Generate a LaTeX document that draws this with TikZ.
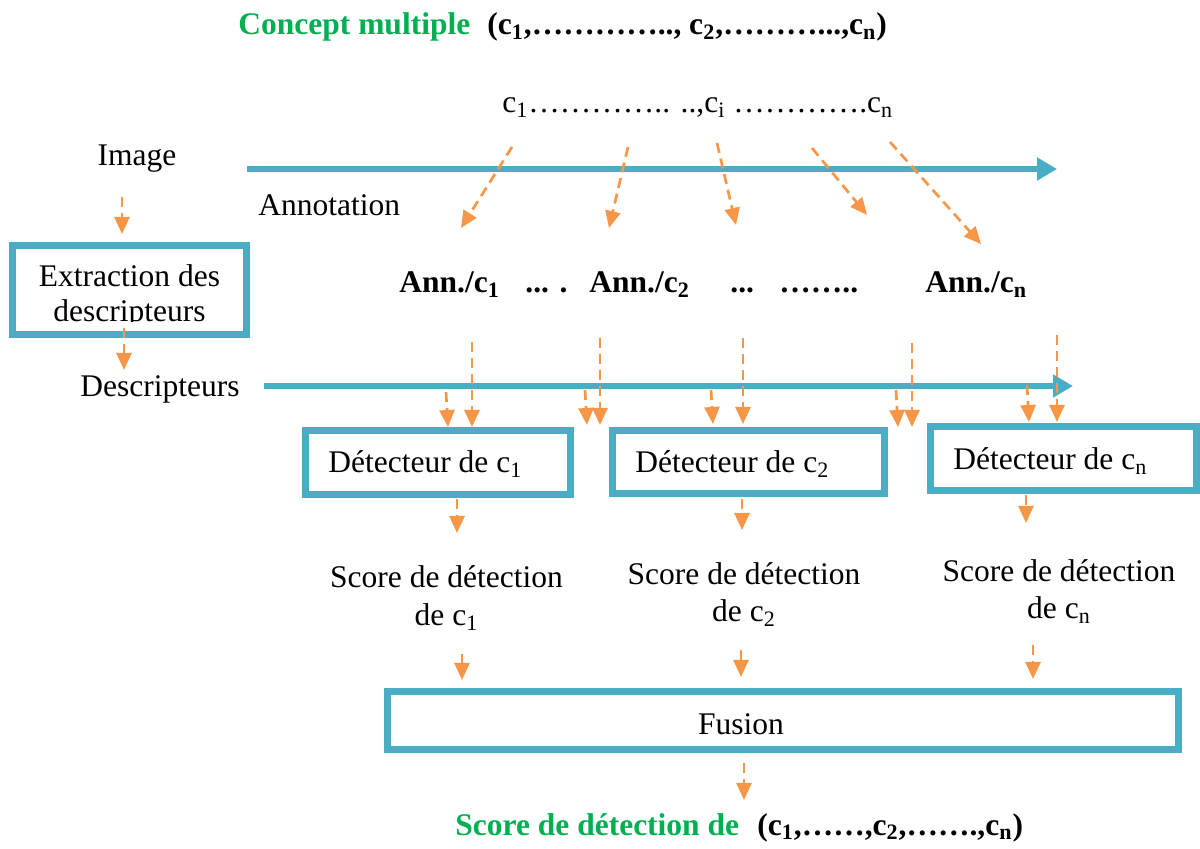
\documentclass[tikz,border=0pt]{standalone}
\usepackage{fontspec}
\setmainfont{Liberation Serif}
\usetikzlibrary{arrows.meta}
\definecolor{cblue}{HTML}{4BACC6}
\definecolor{corange}{HTML}{F79646}
\definecolor{cgreen}{HTML}{00B050}
\newcommand\sbs[1]{\textsubscript{#1}}
\begin{document}
\begin{tikzpicture}[x=0.5pt,y=-0.5pt,
  txt/.style={inner sep=0pt, font=\fontsize{15.75}{18}\selectfont},
  lbl/.style={txt, anchor=base west},
  mid/.style={txt, anchor=base},
  heavy/.style={font=\fontsize{15.75}{18}\selectfont\bfseries},
  bluebox/.style={draw=cblue, line width=3.3pt, inner sep=0pt},
  flowarrow/.style={draw=cblue, line width=3pt, -{Triangle[length=10pt,width=11pt]}},
  oarrow/.style={draw=corange, line width=1.35pt, dash pattern=on 5pt off 3pt, -{Triangle[length=8.5pt,width=7.5pt]}}
]
\useasboundingbox (0,0) rectangle (1200,849);

% titles
\node[lbl, heavy, text=cgreen] (title) at (238,35) {Concept multiple};
\node[lbl, heavy] (titlec) at (487,35) {(c\sbs{1},…………..,\ c\sbs{2},………...,c\sbs{n})};
\node[lbl] (clist) at (502,113) {c\sbs{1}………….. ..,c\sbs{i} ………….c\sbs{n}};

% left column
\node[mid] (image) at (137,166) {Image};
\node[lbl] (annot) at (258,216) {Annotation};
\node[bluebox, minimum width=117pt, minimum height=44.5pt] (extr) at (129.5,290) {};
\node[mid] (extra) at (129.5,287) {Extraction des};
\begin{scope}
\clip (0,0) rectangle (1200,322);
\node[mid] (extrb) at (129.5,322) {descripteurs};
\end{scope}
\node[lbl] (desc) at (80,397) {Descripteurs};

% annotation labels
\node[lbl, heavy] (ann1) at (399,293) {Ann./c\sbs{1}};
\node[lbl, heavy] (dots1) at (525,293) {... .};
\node[lbl, heavy] (ann2) at (589,293) {Ann./c\sbs{2}};
\node[lbl, heavy] (dots2) at (730,293) {...};
\node[lbl, heavy] (dots3) at (779,293) {……..};
\node[lbl, heavy] (annn) at (925,293) {Ann./c\sbs{n}};

% detector boxes
\node[bluebox, minimum width=132.5pt, minimum height=32pt] (det1) at (438,462.5) {};
\node[bluebox, minimum width=136pt, minimum height=31.5pt] (det2) at (748.5,462) {};
\node[bluebox, minimum width=133pt, minimum height=32pt] (det3) at (1063.5,458.5) {};
\node[lbl] (det1t) at (328,473) {Détecteur de c\sbs{1}};
\node[lbl] (det2t) at (635,473) {Détecteur de c\sbs{2}};
\node[lbl] (det3t) at (953,470) {Détecteur de c\sbs{n}};

% scores
\node[mid] (sc1a) at (446.5,588) {Score de détection};
\node[mid] (sc1b) at (446.5,626) {de c\sbs{1}};
\node[mid] (sc2a) at (744,585) {Score de détection};
\node[mid] (sc2b) at (744,622) {de c\sbs{2}};
\node[mid] (sc3a) at (1059,582) {Score de détection};
\node[mid] (sc3b) at (1059,619) {de c\sbs{n}};

% fusion
\node[bluebox, minimum width=395.5pt, minimum height=29pt] (fus) at (783,720.5) {};
\node[mid] (fust) at (741,735) {Fusion};

\node[lbl, heavy, text=cgreen] (res) at (455,835) {Score de détection de};
\node[lbl, heavy] (resc) at (757,835) {(c\sbs{1},……,c\sbs{2},…….,c\sbs{n})};

% blue flow arrows
\coordinate (a1s) at (247,169); \coordinate (a1e) at (1057,169);
\coordinate (a2s) at (264,386); \coordinate (a2e) at (1073,386);
\draw[flowarrow] (a1s) -- (a1e);
\draw[flowarrow] (a2s) -- (a2e);

% orange arrows, left column
\coordinate (o1s) at (122,197); \coordinate (o1e) at (122,234);
\coordinate (o2s) at (124,328); \coordinate (o2e) at (124,370);
\draw[oarrow] (o1s) -- (o1e);
\draw[oarrow] (o2s) -- (o2e);

% slanted arrows from concepts
\coordinate (s1s) at (512,147); \coordinate (s1e) at (461,228);
\coordinate (s2s) at (628,147); \coordinate (s2e) at (609,228);
\coordinate (s3s) at (717,143); \coordinate (s3e) at (736,225);
\coordinate (s4s) at (812,148); \coordinate (s4e) at (867,215);
\coordinate (s5s) at (890,142); \coordinate (s5e) at (981,244);
\foreach \i in {1,...,5} {\draw[oarrow] (s\i s) -- (s\i e);}

% vertical arrows to detectors
\coordinate (v1as) at (446,392); \coordinate (v1ae) at (448,427);
\coordinate (v1bs) at (472,342); \coordinate (v1be) at (472,427);
\coordinate (v2as) at (585,390); \coordinate (v2ae) at (587,425);
\coordinate (v2bs) at (600,338); \coordinate (v2be) at (600,425);
\coordinate (v3as) at (711,390); \coordinate (v3ae) at (713,424);
\coordinate (v3bs) at (743,338); \coordinate (v3be) at (743,424);
\coordinate (v4as) at (896,390); \coordinate (v4ae) at (898,427);
\coordinate (v4bs) at (912,343); \coordinate (v4be) at (912,427);
\coordinate (v5as) at (1027,385); \coordinate (v5ae) at (1029,422);
\coordinate (v5bs) at (1057,335); \coordinate (v5be) at (1057,422);
\foreach \i in {1,...,5} {
  \draw[oarrow] (v\i as) -- (v\i ae);
  \draw[oarrow] (v\i bs) -- (v\i be);
}

% detectors to scores
\coordinate (d1s) at (457,499); \coordinate (d1e) at (457,533);
\coordinate (d2s) at (742,499); \coordinate (d2e) at (742,530);
\coordinate (d3s) at (1026,495); \coordinate (d3e) at (1026,523);
\foreach \i in {1,2,3} {\draw[oarrow] (d\i s) -- (d\i e);}

% scores to fusion
\coordinate (f1s) at (462,654); \coordinate (f1e) at (462,680);
\coordinate (f2s) at (741,650); \coordinate (f2e) at (741,677);
\coordinate (f3s) at (1033,645); \coordinate (f3e) at (1033,679);
\foreach \i in {1,2,3} {\draw[oarrow] (f\i s) -- (f\i e);}

% fusion to result
\coordinate (rs) at (744,763); \coordinate (re) at (744,800);
\draw[oarrow] (rs) -- (re);
\end{tikzpicture}
\end{document}
